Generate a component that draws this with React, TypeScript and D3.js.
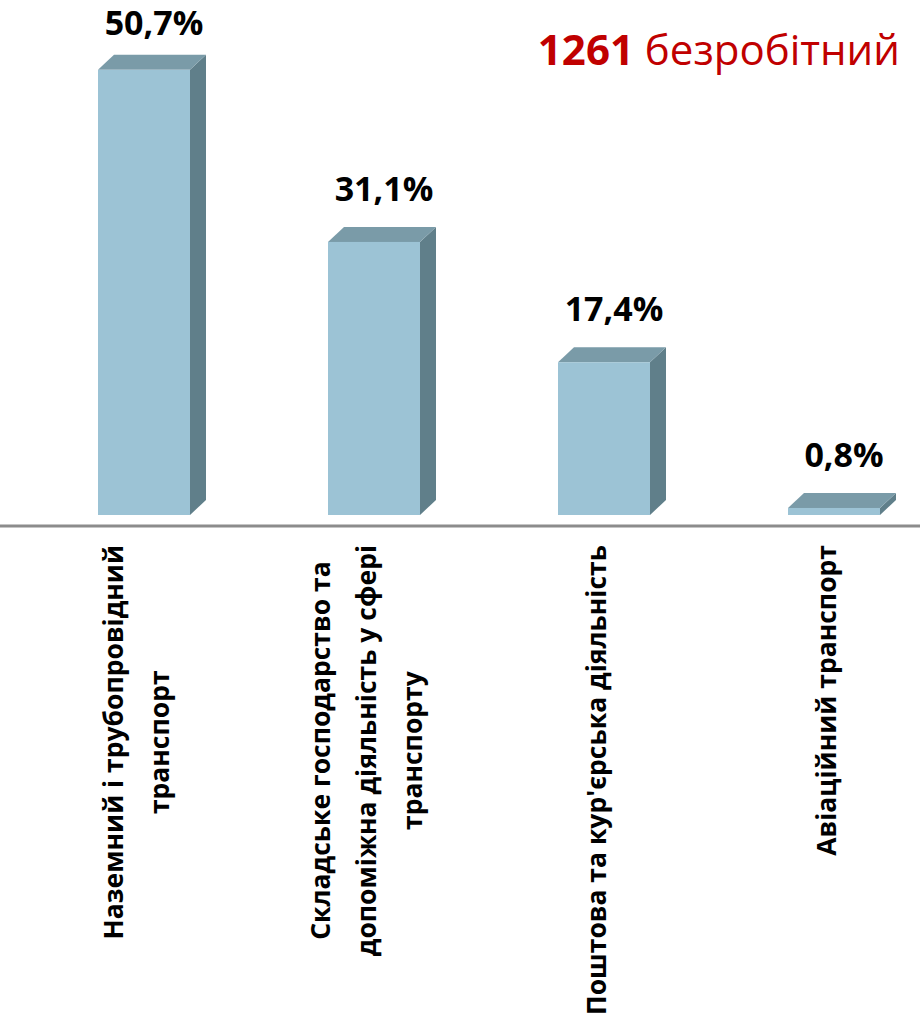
import React, { useEffect, useRef } from "react";
import * as d3 from "d3";

const categories: string[][] = [
  ["Наземний і трубопровідний", "транспорт"],
  ["Складське господарство та", "допоміжна діяльність у сфері", "транспорту"],
  ["Поштова та кур'єрська діяльність"],
  ["Авіаційний транспорт"],
];
const values: number[] = [50.7, 31.1, 17.4, 0.8];
const valueLabels: string[] = ["50,7%", "31,1%", "17,4%", "0,8%"];
const titleNumber = "1261";
const titleText = " безробітний";

const W = 920;
const H = 1020;
const FONT = "'Open Sans', 'Noto Sans', sans-serif";

export default function App() {
  const ref = useRef<SVGSVGElement | null>(null);

  useEffect(() => {
    const svg = d3.select(ref.current);
    svg.selectAll("*").remove();

    const baseY = 515;
    const x = d3
      .scaleBand<number>()
      .domain(values.map((_, i) => i))
      .range([29, 949])
      .paddingInner(0.6)
      .paddingOuter(0.3);
    const y = d3.scaleLinear().domain([0, 50]).range([baseY, baseY - 439]);
    const dx = 16;
    const dy = 15;
    const bw = x.bandwidth();

    const g = svg.append("g");
    values.forEach((v, i) => {
      const x0 = x(i)!;
      const x1 = x0 + bw;
      const yt = y(v);
      g.append("path")
        .attr("d", `M${x1},${baseY} L${x1},${yt} L${x1 + dx},${yt - dy} L${x1 + dx},${baseY - dy} Z`)
        .attr("fill", "#607f8a");
      g.append("path")
        .attr("d", `M${x0},${yt} L${x0 + dx},${yt - dy} L${x1 + dx},${yt - dy} L${x1},${yt} Z`)
        .attr("fill", "#7a9ba8");
      g.append("rect")
        .attr("x", x0)
        .attr("y", yt)
        .attr("width", bw)
        .attr("height", baseY - yt)
        .attr("fill", "#9cc3d5");
      g.append("text")
        .attr("x", x0 + bw / 2 + 10)
        .attr("y", Math.max(yt - dy - 26, 35))
        .attr("text-anchor", "middle")
        .attr("font-family", FONT)
        .attr("font-weight", "bold")
        .attr("font-size", 34)
        .attr("fill", "#000")
        .text(valueLabels[i]);
    });

    svg.append("line")
      .attr("x1", 0)
      .attr("x2", W)
      .attr("y1", 526)
      .attr("y2", 526)
      .attr("stroke", "#8c8c8c")
      .attr("stroke-width", 3);

    const lh = 46;
    categories.forEach((lines, i) => {
      const cx = x(i)! + bw / 2 - 8;
      const lg = svg.append("g").attr("transform", `translate(${cx},545) rotate(-90)`);
      const texts = lines.map((ln, j) =>
        lg.append("text")
          .attr("y", (j - (lines.length - 1) / 2) * lh)
          .attr("dy", "0.36em")
          .attr("text-anchor", "middle")
          .attr("font-family", FONT)
          .attr("font-weight", "bold")
          .attr("font-size", 26.5)
          .attr("fill", "#000")
          .text(ln)
      );
      const maxLen = d3.max(texts, (t) => (t.node() as SVGTextElement).getComputedTextLength()) || 0;
      texts.forEach((t) => t.attr("x", -maxLen / 2));
    });

    const t = svg.append("text")
      .attr("x", 900)
      .attr("y", 65)
      .attr("text-anchor", "end")
      .attr("font-family", FONT)
      .attr("font-size", 42)
      .attr("fill", "#c00000");
    t.append("tspan").attr("font-weight", "bold").text(titleNumber);
    t.append("tspan").text(titleText);
  }, []);

  return (
    <svg
      ref={ref}
      width={W}
      height={H}
      style={{ position: "absolute", left: 0, top: 0, background: "#fff" }}
    />
  );
}
